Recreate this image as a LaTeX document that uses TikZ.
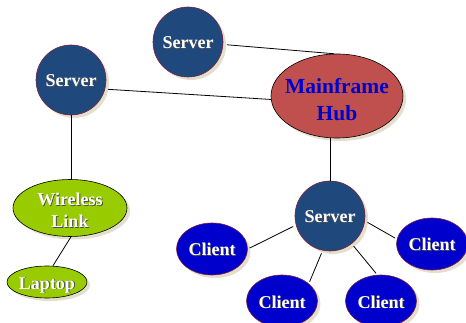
\documentclass[tikz,border=0pt]{standalone}
\usepackage{fontspec}
\setmainfont{Liberation Serif}
\usetikzlibrary{shapes.geometric,shadows}
\definecolor{serverblue}{HTML}{1F497D}
\definecolor{hubred}{HTML}{C0504D}
\definecolor{linkgreen}{HTML}{99CC00}
\definecolor{clientblue}{HTML}{0000CC}
\definecolor{rimred}{HTML}{7A1F40}
\definecolor{shade}{HTML}{E3DFCC}
% white lettering with a dark offset copy underneath, set at zero width
% so the shapes keep the sizes given to them
\newcommand\embossed[1]{\makebox[0pt]{\rlap{\kern0.9pt\raisebox{-0.9pt}{\color{black!70}#1}}#1}}
\newcommand\plain[1]{\makebox[0pt]{#1}}
\begin{document}
\begin{tikzpicture}[x=1pt,y=-1pt,
  softshadow/.style={drop shadow={shadow xshift=3pt,shadow yshift=-3pt,fill=shade,opacity=1}},
  lbl/.style={text=white,font=\fontsize{18}{22}\selectfont\bfseries,inner sep=0pt,text height=14pt,text depth=0pt},
  twolines/.style={text=white,font=\fontsize{18}{22}\selectfont\bfseries,align=center,inner sep=0pt},
  serverbox/.style={circle,draw=rimred,line width=0.6pt,fill=serverblue,minimum size=70pt,softshadow,lbl},
  clientbox/.style={ellipse,draw=rimred,line width=0.6pt,fill=clientblue,minimum width=71pt,minimum height=52pt,softshadow,lbl},
  greenbox/.style={ellipse,draw=black,line width=0.6pt,fill=linkgreen,softshadow,lbl},
  hubbox/.style={ellipse,draw=black,line width=0.6pt,fill=hubred,minimum width=132pt,minimum height=84pt,softshadow,inner sep=0pt},
  hubtext/.style={text=clientblue,font=\fontsize{21.5}{27}\selectfont\bfseries,align=center,inner sep=0pt},
  wire/.style={draw=black,line width=0.8pt}]
\useasboundingbox (0,0) rectangle (466,323);
\fill[white] (0,0) rectangle (466,323);

% nodes
\node[serverbox] (ts) at (188,42) {\embossed{Server}};
\node[serverbox] (ls) at (71,80) {\embossed{Server}};
\node[hubbox] (hub) at (337,96) {};
\node[hubtext] (hubt) at (337,99.5) {\plain{Mainframe}\\\plain{Hub}};
\node[serverbox] (ms) at (330,216) {\embossed{Server}};
\node[greenbox,minimum width=114pt,minimum height=57pt] (wl) at (70,208) {};
\node[twolines] (wlt) at (70,211) {\embossed{Wireless}\\\embossed{Link}};
\node[greenbox,minimum width=80pt,minimum height=32pt] (lap) at (47,282) {\embossed{Laptop}};
\node[clientbox] (c1) at (212,249) {\embossed{Client}};
\node[clientbox] (c2) at (432,244) {\embossed{Client}};
\node[clientbox] (c3) at (282,301) {\embossed{Client}};
\node[clientbox] (c4) at (381,301) {\embossed{Client}};

% connectors
\draw[wire,shorten <=4pt] (ts.-4) -- (hub.94);
\draw[wire,shorten <=3pt] (ls.-15) -- (hub.183);
\draw[wire] (ls.south) -- (ls.south |- wl.north);
\draw[wire] (wl.-88) -- (lap.70);
\draw[wire] (ms.north |- hub.south) -- (ms.north);
\draw[wire,shorten <=3pt,shorten >=2pt] (ms.195) -- (c1.east);
\draw[wire,shorten <=3pt,shorten >=2pt] (ms.-8) -- (c2.172);
\draw[wire,shorten <=3pt,shorten >=2pt] (ms.258) -- (c3.33);
\draw[wire,shorten <=3pt,shorten >=2pt] (ms.308) -- (c4.98);
\end{tikzpicture}
\end{document}
